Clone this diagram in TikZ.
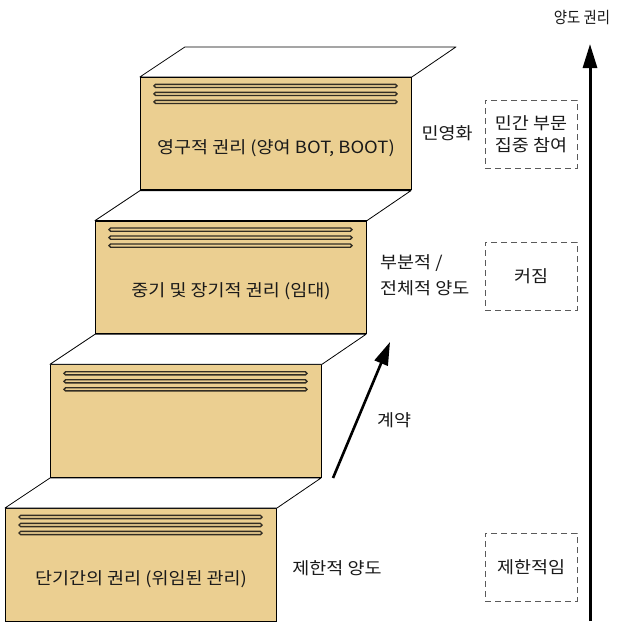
\documentclass[tikz,border=0pt]{standalone}
\usepackage{fontspec}
\setmainfont{Noto Sans CJK KR}[FakeStretch=1.1]
\newfontfamily\narrowfont{Noto Sans CJK KR}[FakeStretch=0.9]
\usetikzlibrary{arrows.meta}
\definecolor{boxtan}{RGB}{235,207,145}
\definecolor{stripec}{RGB}{50,45,35}
\definecolor{textc}{RGB}{25,25,25}
\definecolor{dashc}{RGB}{90,90,90}
\begin{document}
\begin{tikzpicture}[x=1pt,y=-1pt,
  front/.style={draw=black, line width=1pt, fill=boxtan, minimum width=271pt, minimum height=112.5pt, inner sep=0pt, anchor=north west},
  topface/.style={draw=black, line width=0.8pt, fill=white, line join=round},
  stripe/.style={draw=stripec, line width=1.4pt, fill=boxtan, rounded corners=1.6pt},
  lbl/.style={font=\fontsize{16.8}{20}\selectfont, text=textc, inner sep=0pt},
  dbox/.style={draw=dashc, dash pattern=on 6pt off 4pt, line width=1pt, minimum width=92pt, minimum height=68pt, inner sep=0pt, align=center, font=\fontsize{16.8}{22}\selectfont, text=textc},
  bigarrow/.style={-{Triangle[length=24pt,width=14pt]}, line width=3pt},
  midarrow/.style={-{Triangle[length=23pt,width=14pt]}, line width=2.6pt}
]
\useasboundingbox (0,0) rectangle (626,621);
\fill[white] (0,0) rectangle (626,621);

% boxes
\foreach \i/\nm in {0/b1,1/b2,2/b3,3/b4}{
  \node[front] (\nm) at ({5+45*\i},{508-143.7*\i}) {};
  \draw[topface] (\nm.north west) -- ++(45,-30) -- ++(271,0) -- (\nm.north east) -- cycle;
  \foreach \c in {9,17,25}{
    \draw[stripe, shift={(\nm.north west)}] (14,{\c-1.6}) rectangle (257,{\c+1.6});
  }
}

\node[lbl] (t1) at ([yshift=-71pt]b1.north) {단기간의 권리 (위임된 관리)};
\node[lbl] (t3) at ([yshift=-71pt]b3.north) {중기 및 장기적 권리 (임대)};
\node[lbl] (t4) at ([yshift=-71pt]b4.north) {영구적 권리 (양여 BOT, BOOT)};

% side labels
\node[lbl] (l1) at (337,568) {제한적 양도};
\node[lbl] (l2) at (394,420) {계약};
\node[lbl, anchor=west, align=left, font=\fontsize{16.8}{26}\selectfont] (l3) at (380,275) {부분적 /\\전체적 양도};
\node[lbl] (l4) at (447,133) {민영화};

% dashed boxes
\node[dbox] (d1) at (531,134) {민간 부문\\집중 참여};
\node[dbox] (d2) at (531,276) {커짐};
\node[dbox] (d3) at (531,567) {제한적임};

% arrows
\coordinate (abot) at (590,621);
\coordinate (atop) at (590,44);
\draw[bigarrow] (abot) -- (atop);
\node[lbl, font=\narrowfont\fontsize{16}{18}\selectfont] (top) at (582,18) {양도 권리};

\coordinate (cs) at (333,478);
\coordinate (ce) at (390,342);
\draw[midarrow] (cs) -- (ce);
\end{tikzpicture}
\end{document}
